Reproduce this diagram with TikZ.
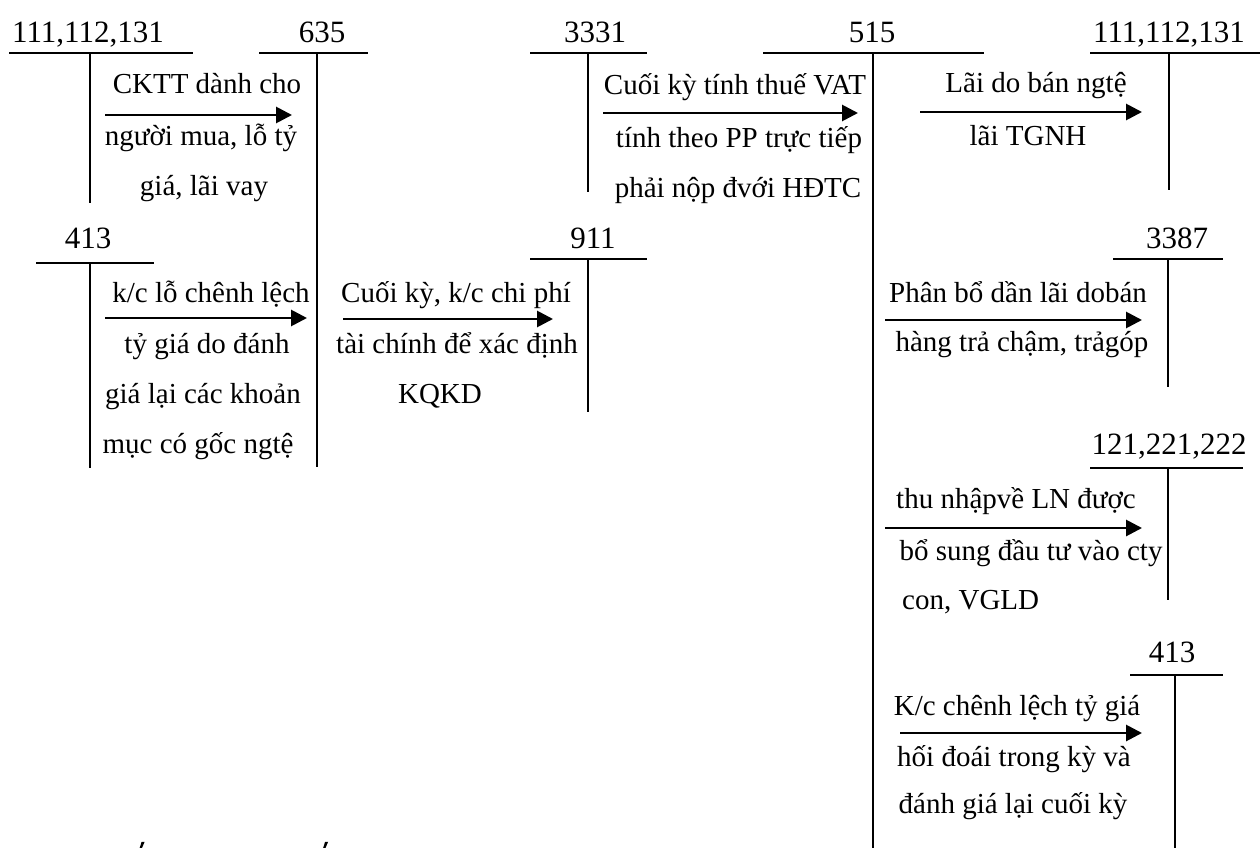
\documentclass[tikz,border=0pt]{standalone}
\usepackage{fontspec}
\setmainfont{Liberation Serif}
\usetikzlibrary{arrows.meta}
% T-account: #1 name, #2 label, #3 label x, #4 label baseline,
% #5 left end, #6 right end, #7 bar y, #8 stem x, #9 stem bottom
\newcommand\tacct[9]{%
  \node[acct] (#1) at (#3,#4) {#2};
  \coordinate (#1-l) at (#5,#7);
  \coordinate (#1-r) at (#6,#7);
  \coordinate (#1-t) at (#8,#7);
  \coordinate (#1-b) at (#8,#9);
  \draw[tline] (#1-l) -- (#1-r) (#1-t) -- (#1-b);
}
\begin{document}
\begin{tikzpicture}[x=1pt,y=-1pt,
  tline/.style={line width=2pt},
  flow/.style={line width=2.8pt,-{Triangle[length=16pt,width=16pt]}},
  lbl/.style={anchor=base,inner sep=0pt,font=\fontsize{29}{35}\selectfont},
  lblw/.style={lbl,anchor=base west},
  acct/.style={anchor=base,inner sep=0pt,font=\fontsize{31}{37}\selectfont}]
\useasboundingbox (0,0) rectangle (1260,848);

% accounts
\tacct{cashL}{111,112,131}{88}{43}{9}{193}{53}{90}{203}
\tacct{fin}{635}{322}{43}{259}{368}{53}{317}{467}
\tacct{vat}{3331}{595}{43}{530}{647}{53}{588}{192}
\tacct{rev}{515}{872}{43}{763}{984}{53}{873}{848}
\tacct{cashR}{111,112,131}{1169}{43}{1090}{1260}{53}{1169}{190}
\tacct{fxL}{413}{88}{248}{36}{154}{263}{90}{468}
\tacct{res}{911}{593}{248}{530}{647}{259}{588}{412}
\tacct{defr}{3387}{1177}{248}{1113}{1223}{259}{1168}{387}
\tacct{inv}{121,221,222}{1169}{454}{1090}{1243}{468}{1168}{600}
\tacct{fxR}{413}{1172}{662}{1130}{1223}{675}{1175}{848}

% 111,112,131 -> 635
\coordinate (a1s) at (105,115); \coordinate (a1e) at (292,115);
\draw[flow] (a1s) -- (a1e);
\node[lbl] (t1a) at (207,94) {CKTT dành cho};
\node[lbl] (t1b) at (201,145) {người mua, lỗ tỷ};
\node[lbl] (t1c) at (204,195) {giá, lãi vay};

% 413 -> 635
\coordinate (a2s) at (105,318); \coordinate (a2e) at (307,318);
\draw[flow] (a2s) -- (a2e);
\node[lbl] (t2a) at (211,302) {k/c lỗ chênh lệch};
\node[lbl] (t2b) at (207,353) {tỷ giá do đánh};
\node[lbl] (t2c) at (203,403) {giá lại các khoản};
\node[lbl] (t2d) at (198,453) {mục có gốc ngtệ};

% 635 -> 911
\coordinate (a3s) at (343,319); \coordinate (a3e) at (553,319);
\draw[flow] (a3s) -- (a3e);
\node[lbl] (t3a) at (456,302) {Cuối kỳ, k/c chi phí};
\node[lbl] (t3b) at (457,353) {tài chính để xác định};
\node[lbl] (t3c) at (440,403) {KQKD};

% 3331 -> 515
\coordinate (a4s) at (603,113); \coordinate (a4e) at (858,113);
\draw[flow] (a4s) -- (a4e);
\node[lbl] (t4a) at (735,95) {Cuối kỳ tính thuế VAT};
\node[lbl] (t4b) at (739,147) {tính theo PP trực tiếp};
\node[lbl] (t4c) at (738,197) {phải nộp đvới HĐTC};

% 515 -> 111,112,131
\coordinate (a5s) at (920,112); \coordinate (a5e) at (1142,112);
\draw[flow] (a5s) -- (a5e);
\node[lbl] (t5a) at (1036,93) {Lãi do bán ngtệ};
\node[lbl] (t5b) at (1028,145) {lãi TGNH};

% 515 -> 3387
\coordinate (a6s) at (885,320); \coordinate (a6e) at (1142,320);
\draw[flow] (a6s) -- (a6e);
\node[lbl] (t6a) at (1018,302) {Phân bổ dần lãi dobán};
\node[lbl] (t6b) at (1022,351) {hàng trả chậm, trảgóp};

% 515 -> 121,221,222
\coordinate (a7s) at (885,528); \coordinate (a7e) at (1142,528);
\draw[flow] (a7s) -- (a7e);
\node[lbl] (t7a) at (1016,508) {thu nhậpvề LN được};
\node[lbl] (t7b) at (1031,560) {bổ sung đầu tư vào cty};
\node[lblw] (t7c) at (902,609) {con, VGLD};

% 515 -> 413
\coordinate (a8s) at (900,733); \coordinate (a8e) at (1142,733);
\draw[flow] (a8s) -- (a8e);
\node[lbl] (t8a) at (1017,715) {K/c chênh lệch tỷ giá};
\node[lbl] (t8b) at (1014,766) {hối đoái trong kỳ và};
\node[lbl] (t8c) at (1013,813) {đánh giá lại cuối kỳ};

% accent strokes cut off at the lower edge
\fill (139.5,848.5) -- (141.8,848.5) -- (144.6,841.8) -- (141.6,841.8) -- cycle;
\fill (323.0,848.5) -- (325.3,848.5) -- (328.1,841.8) -- (325.1,841.8) -- cycle;
\end{tikzpicture}
\end{document}
